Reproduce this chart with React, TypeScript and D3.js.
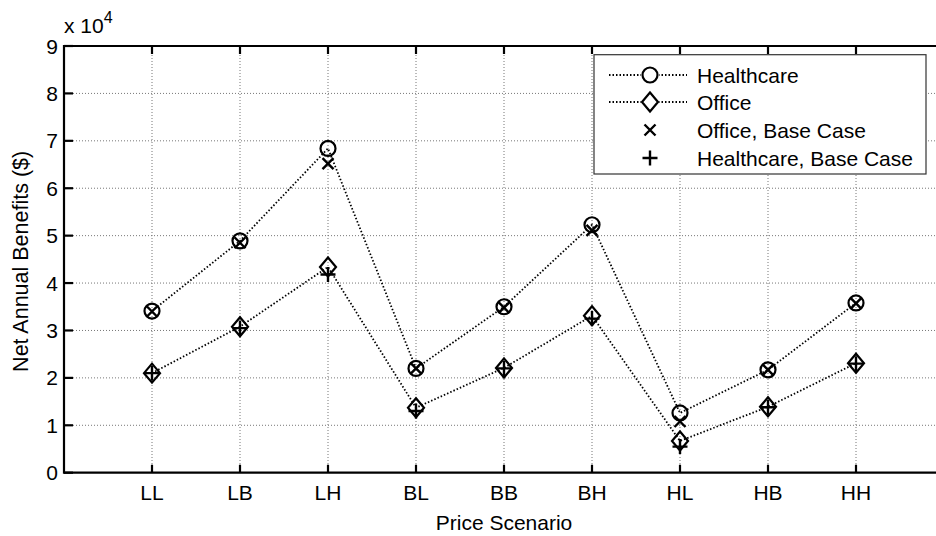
import React from "react";
import * as d3 from "d3";

const categories = ["LL", "LB", "LH", "BL", "BB", "BH", "HL", "HB", "HH"];
const healthcare = [34100, 48900, 68400, 22000, 35000, 52300, 12600, 21700, 35800];
const office = [21000, 30800, 43400, 13700, 22100, 33100, 6700, 13900, 23100];
const officeBase = [34000, 48500, 65200, 22000, 34800, 51100, 10800, 21700, 35700];
const healthcareBase = [21000, 30500, 41800, 13000, 22000, 32500, 5500, 13800, 23000];
const yTicks = [0, 1, 2, 3, 4, 5, 6, 7, 8, 9];
const legendLabels = ["Healthcare", "Office", "Office, Base Case", "Healthcare, Base Case"];

const W = 936;
const H = 536;
const FONT = "'Liberation Sans', Arial, Helvetica, sans-serif";
const FS = 21;

export default function App() {
  const x = d3.scaleLinear().domain([0, 10]).range([64, 944]);
  const y = d3.scaleLinear().domain([0, 90000]).range([472.7, 46]);
  const pos = categories.map((_, i) => i + 1);

  const line = d3
    .line<number>()
    .x((_, i) => x(pos[i]))
    .y((d) => y(d));

  const left = x(0);
  const top = y(90000);
  const bottom = y(0);

  const circle = (cx: number, cy: number, k: string) => (
    <circle key={k} cx={cx} cy={cy} r={7.5} fill="none" stroke="#000" strokeWidth={2.2} />
  );
  const diamond = (cx: number, cy: number, k: string) => (
    <path
      key={k}
      d={`M${cx},${cy - 9.5}L${cx + 8},${cy}L${cx},${cy + 9.5}L${cx - 8},${cy}Z`}
      fill="none"
      stroke="#000"
      strokeWidth={2.2}
    />
  );
  const cross = (cx: number, cy: number, k: string) => (
    <path
      key={k}
      d={`M${cx - 5.5},${cy - 5.5}L${cx + 5.5},${cy + 5.5}M${cx - 5.5},${cy + 5.5}L${cx + 5.5},${cy - 5.5}`}
      fill="none"
      stroke="#000"
      strokeWidth={2.4}
    />
  );
  const plus = (cx: number, cy: number, k: string) => (
    <path
      key={k}
      d={`M${cx - 7.5},${cy}L${cx + 7.5},${cy}M${cx},${cy - 7.5}L${cx},${cy + 7.5}`}
      fill="none"
      stroke="#000"
      strokeWidth={2.4}
    />
  );

  const markerFns = [circle, diamond, cross, plus];
  const legendY = [75, 102, 130, 158];

  return (
    <svg
      width={W}
      height={H}
      style={{ position: "absolute", left: 0, top: 0, background: "#fff" }}
      fontFamily={FONT}
    >
      <rect x={0} y={0} width={W} height={H} fill="#fff" />
      {/* grid */}
      <g stroke="#777" strokeWidth={1} strokeDasharray="1 2">
        {pos.map((p) => (
          <line key={"gx" + p} x1={x(p)} x2={x(p)} y1={top} y2={bottom} />
        ))}
        {yTicks.slice(1, -1).map((t) => (
          <line key={"gy" + t} x1={left} x2={W} y1={y(t * 10000)} y2={y(t * 10000)} />
        ))}
      </g>
      {/* data lines */}
      <g fill="none" stroke="#000" strokeWidth={1.8} strokeDasharray="1.5 2">
        <path d={line(healthcare) || ""} />
        <path d={line(office) || ""} />
      </g>
      {/* markers */}
      <g>
        {healthcare.map((v, i) => circle(x(pos[i]), y(v), "c" + i))}
        {office.map((v, i) => diamond(x(pos[i]), y(v), "d" + i))}
        {officeBase.map((v, i) => cross(x(pos[i]), y(v), "x" + i))}
        {healthcareBase.map((v, i) => plus(x(pos[i]), y(v), "p" + i))}
      </g>
      {/* axes */}
      <g stroke="#000" strokeWidth={2.2}>
        <line x1={left} x2={W} y1={bottom} y2={bottom} />
        <line x1={left} x2={W} y1={top} y2={top} />
        <line x1={left} x2={left} y1={top - 1} y2={bottom + 1} />
        {pos.map((p) => (
          <g key={"tx" + p}>
            <line x1={x(p)} x2={x(p)} y1={bottom} y2={bottom - 8} />
            <line x1={x(p)} x2={x(p)} y1={top} y2={top + 8} />
          </g>
        ))}
        {yTicks.map((t) => (
          <line key={"ty" + t} x1={left} x2={left + 9} y1={y(t * 10000)} y2={y(t * 10000)} />
        ))}
      </g>
      {/* tick labels */}
      <g fontSize={FS} fill="#000">
        {yTicks.map((t) => (
          <text key={"yl" + t} x={58} y={y(t * 10000) + 7.5} textAnchor="end">
            {t}
          </text>
        ))}
        {categories.map((c, i) => (
          <text key={"xl" + c} x={x(pos[i])} y={500} textAnchor="middle">
            {c}
          </text>
        ))}
        <text x={64} y={33}>
          x 10
          <tspan fontSize={16} dy={-10}>
            4
          </tspan>
        </text>
        <text x={x(5)} y={530} textAnchor="middle">
          Price Scenario
        </text>
        <text
          transform={`translate(27.5,${(top + bottom) / 2 + 2}) rotate(-90)`}
          textAnchor="middle"
          fontSize={21.5}
        >
          Net Annual Benefits ($)
        </text>
      </g>
      {/* legend */}
      <g>
        <rect x={594} y={54.7} width={332} height={119.3} fill="#fff" stroke="#333" strokeWidth={1.2} />
        {legendLabels.map((lab, i) => (
          <g key={"lg" + i}>
            {i < 2 && (
              <line
                x1={609}
                x2={687}
                y1={legendY[i]}
                y2={legendY[i]}
                stroke="#000"
                strokeWidth={1.8}
                strokeDasharray="1.5 2"
              />
            )}
            {i < 2 && <rect x={641} y={legendY[i] - 11} width={18} height={22} fill="#fff" />}
            {markerFns[i](650, legendY[i], "lm" + i)}
            <text x={697} y={legendY[i] + 7.5} fontSize={FS}>
              {lab}
            </text>
          </g>
        ))}
      </g>
    </svg>
  );
}
